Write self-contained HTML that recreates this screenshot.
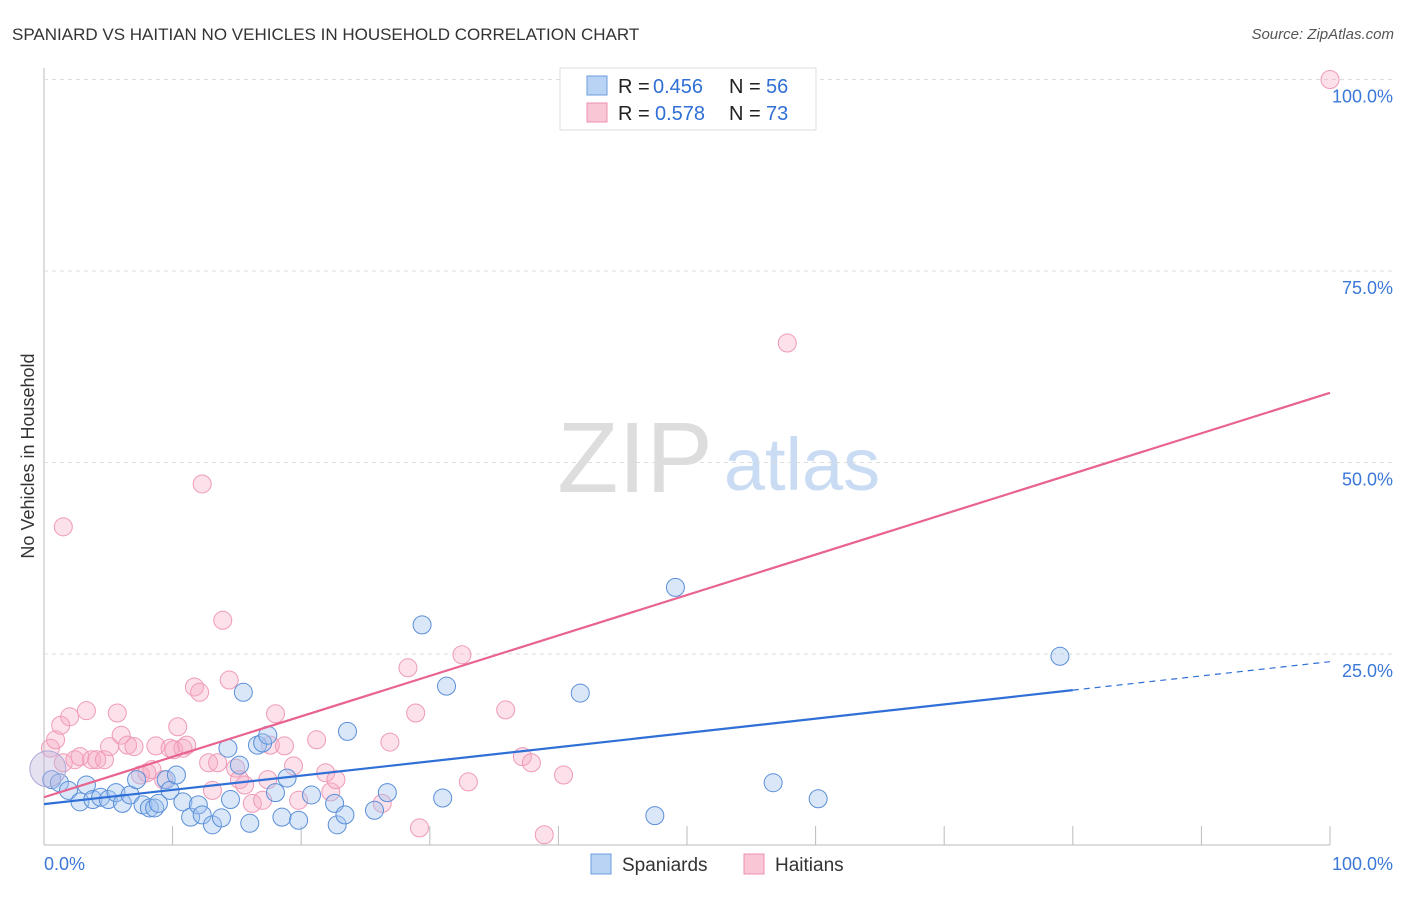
<!DOCTYPE html>
<html><head><meta charset="utf-8"><style>
body{margin:0;background:#fff;font-family:"Liberation Sans",sans-serif}
svg text{font-family:"Liberation Sans",sans-serif}
</style></head><body>
<svg id="c" width="1406" height="892">
<text x="12" y="40" font-size="17" fill="#333">SPANIARD VS HAITIAN NO VEHICLES IN HOUSEHOLD CORRELATION CHART</text>
<text x="1394" y="39" font-size="15" fill="#555" font-style="italic" text-anchor="end">Source: ZipAtlas.com</text>
<g><text x="635" y="492" font-size="100" fill="#ddd" font-family="Liberation Serif,serif" text-anchor="middle">ZIP</text><text x="802" y="490" font-size="74" fill="#c9dcf3" text-anchor="middle">atlas</text></g>
<text transform="translate(34,456) rotate(-90)" font-size="18" fill="#333" text-anchor="middle">No Vehicles in Household</text>
<g id="grid"></g><g id="pts"></g><g id="lines"></g>
<g>
<rect x="560" y="68" width="256" height="62" fill="#fff" stroke="#ddd"/>
<rect x="587" y="76" width="20" height="19" fill="#b9d3f5" stroke="#6b9ee0"/>
<rect x="587" y="103" width="20" height="19" fill="#f9c6d6" stroke="#ee8fb0"/>
<text y="93" font-size="20" fill="#222"><tspan x="618">R =</tspan><tspan x="653" fill="#2f6fd6">0.456</tspan><tspan x="729">N =</tspan><tspan x="766" fill="#2f6fd6">56</tspan></text>
<text y="120" font-size="20" fill="#222"><tspan x="618">R =</tspan><tspan x="655" fill="#2f6fd6">0.578</tspan><tspan x="729">N =</tspan><tspan x="766" fill="#2f6fd6">73</tspan></text>
</g>
<g>
<rect x="591" y="854" width="20" height="20" fill="#b9d3f5" stroke="#6b9ee0"/><text x="622" y="871" font-size="19" fill="#333">Spaniards</text>
<rect x="744" y="854" width="20" height="20" fill="#f9c6d6" stroke="#ee8fb0"/><text x="775" y="871" font-size="19" fill="#333">Haitians</text>
</g>
</svg>
<script>
const yTicks=[25,50,75,100];
const yTickLabels=["25.0%","50.0%","75.0%","100.0%"];
const xTicksMinor=[10,20,30,40,50,60,70,80,90,100];
const blueX=[0.6,1.2,1.9,2.8,3.3,3.8,4.4,5.0,5.6,6.1,6.7,7.2,7.7,8.2,8.6,8.9,9.5,9.8,10.3,10.8,11.4,12.0,12.3,13.1,13.8,14.3,14.5,15.2,15.5,16.0,16.6,17.0,17.4,18.0,18.5,18.9,19.8,20.8,22.6,22.8,23.4,23.6,25.7,26.7,29.4,31.0,31.3,41.7,47.5,49.1,56.7,60.2,79.0];
const blueY=[8.6,8.2,7.2,5.7,7.9,6.0,6.3,6.0,6.9,5.5,6.6,8.6,5.3,4.9,4.9,5.5,8.6,7.2,9.2,5.7,3.7,5.3,4.0,2.7,3.6,12.7,6.0,10.5,20.0,2.9,13.1,13.4,14.4,6.9,3.7,8.8,3.3,6.6,5.5,2.7,4.0,14.9,4.6,6.9,28.8,6.2,20.8,19.9,3.9,33.7,8.2,6.1,24.7];
const pinkX=[0.5,0.9,1.3,2.0,3.3,1.5,2.4,2.8,3.7,4.1,4.7,5.1,5.7,6.0,6.5,7.0,7.5,8.0,8.4,8.7,9.3,9.8,10.4,10.1,10.8,11.1,11.7,12.1,12.8,13.1,13.5,13.9,14.4,14.9,15.2,15.6,16.2,17.0,17.4,18.0,17.6,18.7,19.4,19.8,21.2,21.9,22.3,22.7,26.3,26.9,28.3,28.9,29.2,32.5,33.0,35.9,37.2,37.9,38.9,40.4,57.8,100,12.3,1.5];
const pinkY=[12.7,13.8,15.7,16.8,17.6,10.8,11.2,11.6,11.2,11.2,11.2,12.9,17.3,14.4,13.1,12.9,9.2,9.5,9.9,13.0,8.6,12.7,15.5,12.5,12.7,13.1,20.7,20.0,10.8,7.2,10.8,29.4,21.6,10.1,8.6,7.9,5.5,5.9,8.6,17.2,13.1,13.0,10.4,5.9,13.8,9.5,7.0,8.6,5.5,13.5,23.2,17.3,2.3,24.9,8.3,17.7,11.6,10.8,1.4,9.2,65.6,100,47.2,41.6];
const blueLine=[5.4,24.0];
const pinkLine=[6.3,59.1];
const blueSolidEnd=80;
const X=v=>44+v*12.86, Y=v=>845.5-v*7.66;
const NS="http://www.w3.org/2000/svg";
function mk(p,t,a){const e=document.createElementNS(NS,t);for(const k in a)e.setAttribute(k,a[k]);document.getElementById(p).appendChild(e);return e;}
let e;
e=mk('grid','line',{x1:44,y1:68,x2:44,y2:845,stroke:'#bbb'});


e=mk('grid','line',{x1:44,y1:845,x2:1330,y2:845,stroke:'#bbb'});


yTicks.forEach((t,i)=>{
 e=mk('grid','line',{x1:44,y1:Y(t),x2:1394,y2:Y(t),stroke:'#ddd','stroke-dasharray':'4,4'});
 
 
 e=mk('grid','text',{x:1393,y:Y(t)+23,'font-size':18,fill:'#3b78d8','text-anchor':'end'});
 e.textContent=yTickLabels[i];
 
 
});
xTicksMinor.forEach(t=>{
 e=mk('grid','line',{x1:X(t),y1:826,x2:X(t),y2:845,stroke:'#bbb'});
 
 
});
e=mk('grid','text',{x:44,y:870,'font-size':18,fill:'#3b78d8'});e.textContent='0.0%';


e=mk('grid','text',{x:1393,y:870,'font-size':18,fill:'#3b78d8','text-anchor':'end'});e.textContent='100.0%';


pinkX.forEach((x,i)=>{
 e=mk('pts','circle',{cx:X(x),cy:Y(pinkY[i]),r:9,fill:'rgba(246,170,196,0.35)',stroke:'#ef9ab8','stroke-width':1});
 
 
});
blueX.forEach((x,i)=>{
 e=mk('pts','circle',{cx:X(x),cy:Y(blueY[i]),r:9,fill:'rgba(160,196,240,0.4)',stroke:'#5b8fd8','stroke-width':1});
 
 
});
e=mk('pts','circle',{cx:X(0.3),cy:Y(10),r:18,fill:'rgba(190,180,220,0.4)',stroke:'#a9a9d8'});


const bl=x=>blueLine[0]+(blueLine[1]-blueLine[0])*x/100, pl=x=>pinkLine[0]+(pinkLine[1]-pinkLine[0])*x/100;
e=mk('lines','line',{x1:X(0),y1:Y(pl(0)),x2:X(100),y2:Y(pl(100)),stroke:'#e8648f','stroke-width':2.2});


e=mk('lines','line',{x1:X(0),y1:Y(bl(0)),x2:X(blueSolidEnd),y2:Y(bl(blueSolidEnd)),stroke:'#2f6fd6','stroke-width':2.2});


e=mk('lines','line',{x1:X(blueSolidEnd),y1:Y(bl(blueSolidEnd)),x2:X(100),y2:Y(bl(100)),stroke:'#2f6fd6','stroke-width':1.2,'stroke-dasharray':'6,5'});


</script>
</body></html>
